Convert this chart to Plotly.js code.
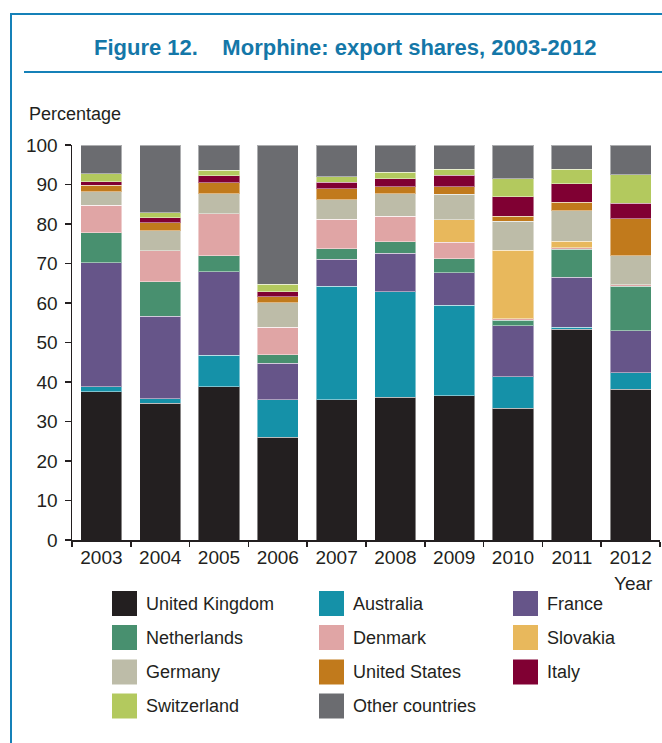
<!DOCTYPE html>
<html>
<head>
<meta charset="utf-8">
<script src="https://cdn.plot.ly/plotly-3.0.1.min.js"></script>
<style>
html,body{margin:0;padding:0;background:#fff;}
#chart{width:662px;height:743px;}
</style>
</head>
<body>
<div id="chart"></div>
<script>
// ---- Data ----
const years = ['2003','2004','2005','2006','2007','2008','2009','2010','2011','2012'];
const countries = ['United Kingdom','Australia','France','Netherlands','Denmark','Slovakia','Germany','United States','Italy','Switzerland','Other countries'];
const unitedKingdom = [37.5, 34.6, 38.8, 26.0, 35.5, 36.1, 36.5, 33.3, 53.3, 38.2];
const australia     = [1.3, 1.1, 8.0, 9.5, 28.7, 26.7, 22.9, 8.0, 0.6, 4.2];
const france        = [31.4, 20.9, 21.1, 9.2, 6.9, 9.8, 8.2, 13.0, 12.6, 10.6];
const netherlands   = [7.6, 8.8, 4.0, 2.2, 2.6, 2.9, 3.6, 1.3, 7.1, 11.2];
const denmark       = [6.95, 7.8, 10.7, 7.0, 7.5, 6.5, 4.2, 0.4, 0.4, 0.4];
const slovakia      = [0, 0, 0, 0, 0, 0, 5.7, 17.3, 1.65, 0];
const germany       = [3.45, 5.1, 5.0, 6.15, 5.0, 5.7, 6.4, 7.4, 7.65, 7.4];
const unitedStates  = [1.6, 2.0, 2.8, 1.55, 2.7, 1.7, 1.9, 1.3, 2.2, 9.3];
const italy         = [0.9, 1.3, 1.8, 1.3, 1.7, 2.1, 3.0, 4.9, 4.7, 4.0];
const switzerland   = [2.0, 1.3, 1.4, 1.9, 1.3, 1.6, 1.5, 4.6, 3.7, 7.2];
const otherCountries= [7.3, 17.1, 6.4, 35.2, 8.1, 6.9, 6.1, 8.5, 6.1, 7.5];
const yTicks = [0,10,20,30,40,50,60,70,80,90,100];

// ---- Styles ----
const seriesValues = [unitedKingdom, australia, france, netherlands, denmark, slovakia, germany, unitedStates, italy, switzerland, otherCountries];
const colors = ['#231f20','#1591a8','#665589','#48906f','#e0a5a5','#e8b85c','#bdbca8','#c17a1c','#800033','#b3c95e','#6b6c70'];
const FONT = '"Liberation Sans", Arial, sans-serif';
const TXT = '#231f20';
const BLUE = '#1581b8';
const TITLE_BLUE = '#1477a8';

const W = 662, H = 743;
const M = {l:72, r:2, t:145, b:203};
const PW = W - M.l - M.r, PH = H - M.t - M.b;
const px = x => (x - M.l) / PW;
const py = y => (H - M.b - y) / PH;

const traces = countries.map((name, i) => ({
  type: 'bar',
  name: name,
  x: years,
  y: seriesValues[i],
  marker: {color: colors[i], line: {color: 'rgba(255,255,255,0.45)', width: 1}},
  showlegend: false,
  hoverinfo: 'name+y'
}));

const shapes = [
  {type:'rect', xref:'paper', yref:'paper', x0:px(11), x1:px(720), y0:py(14), y1:py(800),
   line:{color:BLUE, width:2}, fillcolor:'rgba(0,0,0,0)', layer:'below'},
  {type:'line', xref:'paper', yref:'paper', x0:px(24), x1:px(700), y0:py(72), y1:py(72),
   line:{color:BLUE, width:2}}
];
const annotations = [
  {text:'Figure 12.\u00a0\u00a0\u00a0\u00a0Morphine: export shares, 2003-2012', xref:'paper', yref:'paper',
   x:px(345), y:py(47), xanchor:'center', yanchor:'middle', showarrow:false,
   font:{family:FONT, size:22, color:TITLE_BLUE, weight:'bold'}},
  {text:'Percentage', xref:'paper', yref:'paper', x:px(27), y:py(114), xanchor:'left', yanchor:'middle',
   showarrow:false, font:{family:FONT, size:18, color:TXT}},
  {text:'Year', xref:'paper', yref:'paper', x:px(655), y:py(583), xanchor:'right', yanchor:'middle',
   showarrow:false, font:{family:FONT, size:19, color:TXT}}
];

const colX = [112, 319, 513];
const rowY = [603.5, 637.5, 672, 706];
countries.forEach((name, i) => {
  const c = i % 3, r = Math.floor(i / 3);
  const x0 = colX[c], yc = rowY[r];
  shapes.push({type:'rect', xref:'paper', yref:'paper', x0:px(x0), x1:px(x0+25), y0:py(yc-12.5), y1:py(yc+12.5),
    line:{width:0}, fillcolor:colors[i]});
  annotations.push({text:name, xref:'paper', yref:'paper', x:px(x0+32), y:py(yc), xanchor:'left', yanchor:'middle',
    showarrow:false, font:{family:FONT, size:18, color:TXT}});
});

const layout = {
  width: W, height: H,
  margin: M,
  paper_bgcolor:'#ffffff', plot_bgcolor:'#ffffff',
  barmode:'stack', bargap:0.3,
  font:{family:FONT, size:19, color:TXT},
  showlegend:false,
  xaxis:{type:'category', showgrid:false, showline:true, linecolor:TXT, linewidth:1.5,
    ticks:'outside', tickson:'boundaries', ticklen:5, tickcolor:TXT, tickwidth:1.5,
    tickfont:{family:FONT, size:19, color:TXT}, zeroline:false},
  yaxis:{range:[0,100], tickvals:yTicks, showgrid:false, showline:true, linecolor:TXT, linewidth:1.5,
    ticks:'outside', ticklen:6, tickcolor:TXT, tickwidth:1.5, zeroline:false,
    tickfont:{family:FONT, size:19, color:TXT}, ticklabelstandoff:3},
  shapes: shapes,
  annotations: annotations
};

Plotly.newPlot('chart', traces, layout, {displayModeBar:false, staticPlot:true});
</script>
</body>
</html>
